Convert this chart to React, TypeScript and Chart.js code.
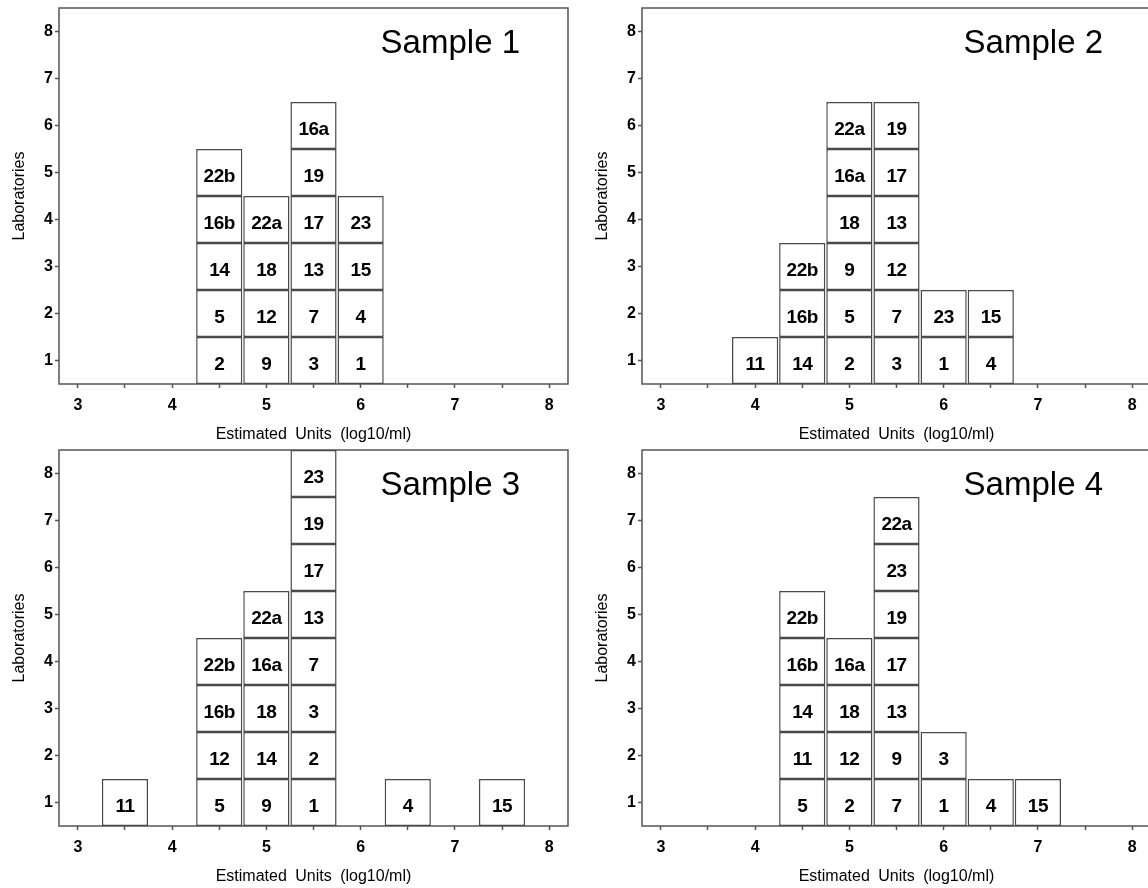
import React, { useEffect, useRef } from "react";
import { Chart, registerables } from "chart.js";

Chart.register(...registerables);

const FONT = '"Liberation Sans", Arial, Helvetica, sans-serif';

const panelTitles = ["Sample 1", "Sample 2", "Sample 3", "Sample 4"];
const xAxisTitle = "Estimated Units (log10/ml)";
const yAxisTitle = "Laboratories";
const xRange = [2.8, 8.2];
const yRange = [0.5, 8.5];
const xTickValues = [3, 3.5, 4, 4.5, 5, 5.5, 6, 6.5, 7, 7.5, 8];
const yTickValues = [1, 2, 3, 4, 5, 6, 7, 8];

// Sample 1: bin centres (log10/ml) and the laboratories stacked in each bin (bottom -> top)
const sample1Bins = [4.5, 5.0, 5.5, 6.0];
const sample1Labs = [
  ["2", "5", "14", "16b", "22b"],
  ["9", "12", "18", "22a"],
  ["3", "7", "13", "17", "19", "16a"],
  ["1", "4", "15", "23"],
];

const sample2Bins = [4.0, 4.5, 5.0, 5.5, 6.0, 6.5];
const sample2Labs = [
  ["11"],
  ["14", "16b", "22b"],
  ["2", "5", "9", "18", "16a", "22a"],
  ["3", "7", "12", "13", "17", "19"],
  ["1", "23"],
  ["4", "15"],
];

const sample3Bins = [3.5, 4.5, 5.0, 5.5, 6.5, 7.5];
const sample3Labs = [
  ["11"],
  ["5", "12", "16b", "22b"],
  ["9", "14", "18", "16a", "22a"],
  ["1", "2", "3", "7", "13", "17", "19", "23"],
  ["4"],
  ["15"],
];

const sample4Bins = [4.5, 5.0, 5.5, 6.0, 6.5, 7.0];
const sample4Labs = [
  ["5", "11", "14", "16b", "22b"],
  ["2", "12", "18", "16a"],
  ["7", "9", "13", "17", "19", "23", "22a"],
  ["1", "3"],
  ["4"],
  ["15"],
];

const PANEL_W = 583;
const PANEL_H = 442;
const GRAY = "#555555";

const panelPlugin = {
  id: "panelDecor",
  beforeDatasetsDraw(chart: any) {
    const { ctx, chartArea } = chart;
    ctx.save();
    ctx.strokeStyle = GRAY;
    ctx.lineWidth = 1.5;
    ctx.strokeRect(chartArea.left, chartArea.top, chartArea.right - chartArea.left, chartArea.bottom - chartArea.top);
    ctx.restore();
  },
  afterDatasetsDraw(chart: any) {
    const { ctx, chartArea } = chart;
    const title = chart.options.plugins.panelDecor.title;
    ctx.save();
    // box labels
    ctx.fillStyle = "#000";
    ctx.font = `bold 19px ${FONT}`;
    ctx.textAlign = "center";
    ctx.textBaseline = "middle";
    (ctx as any).letterSpacing = "-0.5px";
    chart.data.datasets.forEach((ds: any, di: number) => {
      const meta = chart.getDatasetMeta(di);
      meta.data.forEach((el: any, i: number) => {
        const lab = ds.data[i].lab;
        const cy = (el.y + el.base) / 2 + 4;
        ctx.fillText(lab, el.x, cy);
      });
    });
    // sample title
    (ctx as any).letterSpacing = "0px";
    ctx.font = `33px ${FONT}`;
    ctx.textAlign = "right";
    ctx.textBaseline = "alphabetic";
    ctx.fillText(title, chartArea.right - 48, chartArea.top + 45);
    // axis titles
    ctx.font = `16px ${FONT}`;
    (ctx as any).wordSpacing = "4px";
    ctx.textAlign = "center";
    ctx.textBaseline = "middle";
    ctx.fillText(xAxisTitle, (chartArea.left + chartArea.right) / 2, chartArea.bottom + 51);
    ctx.translate(20, (chartArea.top + chartArea.bottom) / 2);
    ctx.rotate(-Math.PI / 2);
    ctx.fillText(yAxisTitle, 0, 0);
    ctx.restore();
  },
};

function Panel(props: { title: string; bins: number[]; labs: string[][]; left: number; top: number }) {
  const ref = useRef<HTMLCanvasElement>(null);
  useEffect(() => {
    const { bins, labs, title } = props;
    const levels = Math.max(...labs.map((c) => c.length));
    const datasets: any[] = [];
    for (let l = 0; l < levels; l++) {
      const data: any[] = [];
      bins.forEach((b, i) => {
        const lab = labs[i][l];
        if (lab !== undefined) data.push({ x: b, y: [l + 0.5, l + 1.5], lab });
      });
      datasets.push({
        data,
        backgroundColor: "#ffffff",
        borderColor: "#4a4a4a",
        borderWidth: 1.5,
        borderSkipped: false,
        grouped: false,
        barPercentage: 0.98,
        categoryPercentage: 1,
      });
    }
    const tickFont = { family: FONT, size: 16, weight: "bold" as const };
    const chart = new Chart(ref.current as HTMLCanvasElement, {
      type: "bar",
      data: { datasets },
      options: {
        animation: false,
        responsive: true,
        maintainAspectRatio: false,
        events: [],
        layout: { padding: { top: 8, right: 15, left: 0, bottom: 0 } },
        plugins: {
          legend: { display: false },
          tooltip: { enabled: false },
          panelDecor: { title },
        } as any,
        scales: {
          x: {
            type: "linear",
            min: xRange[0],
            max: xRange[1],
            offset: false,
            grid: { offset: false, drawOnChartArea: false, drawTicks: true, tickLength: 4, tickColor: GRAY, tickWidth: 1.5 },
            border: { display: false },
            afterBuildTicks: (s: any) => {
              s.ticks = xTickValues.map((v) => ({ value: v }));
            },
            ticks: {
              autoSkip: false,
              maxRotation: 0,
              padding: 8,
              color: "#000",
              font: tickFont,
              callback: (v: any) => (Math.abs(v - Math.round(v)) < 1e-6 ? String(Math.round(v)) : ""),
            },
            afterFit: (s: any) => {
              s.height = PANEL_H - 384;
              s.paddingLeft = 0;
              s.paddingRight = 0;
            },
          } as any,
          y: {
            type: "linear",
            min: yRange[0],
            max: yRange[1],
            grid: { drawOnChartArea: false, drawTicks: true, tickLength: 4, tickColor: GRAY, tickWidth: 1.5 },
            border: { display: false },
            afterBuildTicks: (s: any) => {
              s.ticks = yTickValues.map((v) => ({ value: v }));
            },
            ticks: {
              autoSkip: false,
              padding: 2,
              color: "#000",
              font: tickFont,
              callback: (v: any) => String(v),
            },
            afterFit: (s: any) => {
              s.width = 59;
              s.paddingTop = 0;
              s.paddingBottom = 0;
            },
          } as any,
        },
      },
      plugins: [panelPlugin],
    });
    return () => chart.destroy();
  }, []);
  return (
    <div style={{ position: "absolute", left: props.left, top: props.top, width: PANEL_W, height: PANEL_H }}>
      <canvas ref={ref} />
    </div>
  );
}

export default function App() {
  return (
    <div
      style={{
        position: "fixed",
        left: 0,
        top: 0,
        width: 1148,
        height: 888,
        overflow: "hidden",
        background: "#ffffff",
      }}
    >
      <Panel title={panelTitles[0]} bins={sample1Bins} labs={sample1Labs} left={0} top={0} />
      <Panel title={panelTitles[1]} bins={sample2Bins} labs={sample2Labs} left={PANEL_W} top={0} />
      <Panel title={panelTitles[2]} bins={sample3Bins} labs={sample3Labs} left={0} top={PANEL_H} />
      <Panel title={panelTitles[3]} bins={sample4Bins} labs={sample4Labs} left={PANEL_W} top={PANEL_H} />
    </div>
  );
}
